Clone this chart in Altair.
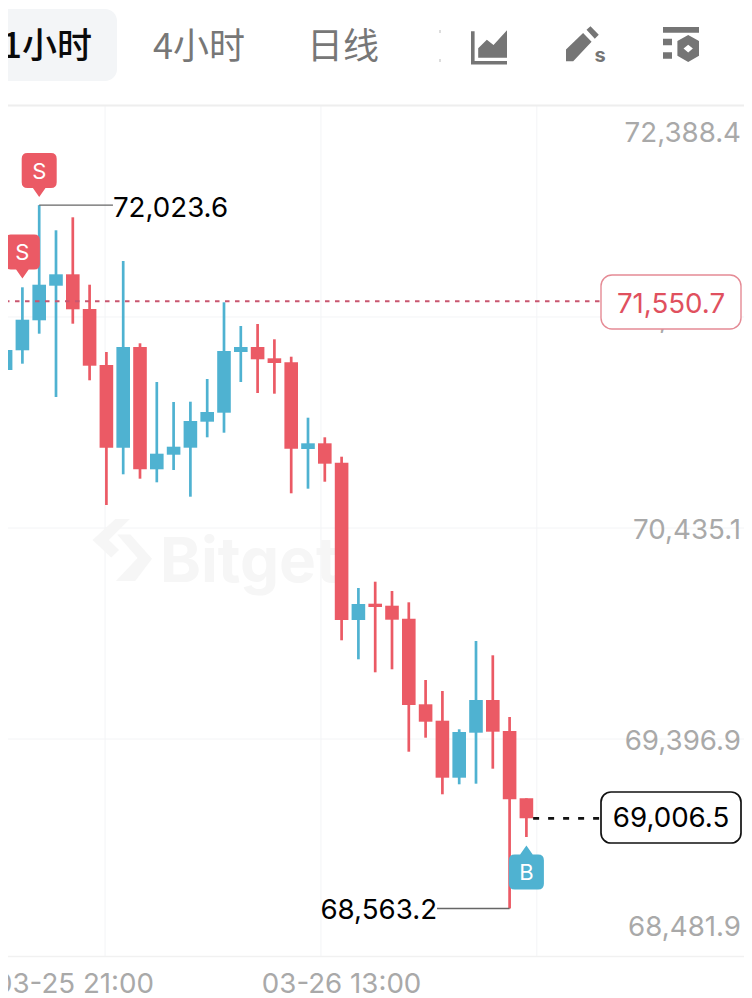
import altair as alt
import pandas as pd

# Candles (oldest to newest)
opens = [71212.5,71309.4,71457.0,71627.2,71683.3,71512.6,71237.1,70830.2,71325.6,70723.9,70795.7,70830.2,70958.1,71002.4,71301.0,71325.6,71270.0,71250.3,70823.8,70851.8,70756.4,69982.5,70062.7,70052.8,69988.9,69567.7,69487.0,69206.6,69428.0,69588.9,69436.3,69105.2]
highs = [71393.0,71619.3,72023.6,71899.8,71963.7,71632.1,71301.0,71748.7,71343.8,71153.4,71055.0,71056.5,71168.2,71545.5,71428.9,71438.8,71363.5,71277.9,70977.8,70881.3,70785.9,70139.9,70170.9,70125.1,70069.5,69687.3,69633.1,69444.7,69879.1,69808.8,69505.2,69105.2]
lows = [71027.0,71243.5,71391.1,71079.6,71440.3,71161.8,70548.3,70699.3,70677.7,70659.9,70720.5,70589.1,70881.3,70904.0,71153.4,71099.3,71095.9,70605.8,70628.5,70662.9,69882.6,69789.1,69725.1,69739.9,69334.5,69403.4,69124.9,69174.1,69177.1,69250.9,68563.2,68914.8]
closes = [71310.9,71459.9,71632.1,71683.3,71511.1,71233.6,70830.2,71325.6,70723.9,70800.7,70835.1,70961.5,71005.8,71305.9,71325.6,71265.1,71246.9,70825.3,70851.8,70751.5,69982.5,70061.2,70046.4,69983.9,69564.3,69482.1,69206.6,69431.4,69588.9,69432.9,69100.3,69006.5]

y_prices = [72388.4, 71473.3, 70435.1, 69396.9, 68481.9]
y_labels = ["72,388.4", "71,473.3", "70,435.1", "69,396.9", "68,481.9"]
grid_prices = [71473.3, 70435.1, 69396.9]
grid_idx = [5.92, 18.77, 31.62]
time_idx = [4.1, 20.0]
time_labels = ["03-25 21:00", "03-26 13:00"]
last_price = 71550.7
cur_price = 69006.5
high_price = 72023.6
low_price = 68563.2

RED = "#EB5A65"
BLUE = "#4FB2D1"
GREY = "#A9A9A9"
FONT = "Inter"
TS = 27.7

X_SCALE = alt.Scale(domain=[-0.3333, 44.4286], zero=False, nice=False)
Y_SCALE = alt.Scale(domain=[68122.7, 73032.86], zero=False, nice=False)
def X(f, **k): return alt.X(f, type="quantitative", scale=X_SCALE, axis=None, **k)
def Y(f, **k): return alt.Y(f, type="quantitative", scale=Y_SCALE, axis=None, **k)

df = pd.DataFrame({"i": range(len(opens)), "o": opens, "h": highs, "l": lows, "c": closes})
df["left"] = df.i - 0.405
df["right"] = df.i + 0.405
df["top"] = df[["o", "c"]].max(axis=1)
df["bot"] = df[["o", "c"]].min(axis=1)
df["dir"] = ["up" if c >= o else "down" for o, c in zip(opens, closes)]
COL = alt.Color("dir:N", scale=alt.Scale(domain=["up", "down"], range=[BLUE, RED]), legend=None)

one = alt.Data(values=[{"k": 1}])

def chrome_text(t, x, y, size, color, font=FONT, weight=400, align="center"):
    return alt.Chart(one).mark_text(text=t, font=font, fontSize=size, color=color, fontWeight=weight,
                                    align=align, baseline="middle").encode(x=alt.value(x), y=alt.value(y))

def icon(path, x, y, size, color="#757575"):
    return alt.Chart(one).mark_point(shape=path, size=size, filled=True, fill=color, opacity=1,
                                     strokeWidth=0).encode(x=alt.value(x), y=alt.value(y))

def hline(y, color, w):
    return alt.Chart(one).mark_rule(color=color, strokeWidth=w).encode(x=alt.value(0), x2=alt.value(752), y=alt.value(y))

# grids
h_grid = alt.Chart(pd.DataFrame({"p": grid_prices})).mark_rule(color="#F3F4F6", strokeWidth=1).encode(
    y=Y("p"), x=alt.value(0), x2=alt.value(752))
v_grid = alt.Chart(pd.DataFrame({"i": grid_idx})).mark_rule(color="#F3F4F6", strokeWidth=1).encode(
    x=X("i"), y=alt.value(106), y2=alt.value(957))

# watermark
logo_path = ("M-0.22,-1.03 L0.26,-1.03 L-0.44,-0.33 L-0.1,0 L-0.36,0.25 L-0.98,-0.33 Z "
             "M-0.2,1.03 L0.44,1.03 L1.0,0.29 L0.28,-0.52 L-0.16,-0.52 L0.52,0.27 Z")
logo = icon(logo_path, 122, 550, 3600, "#F6F6F6")
wm_text = alt.Chart(one).mark_text(text="Bitget", font=FONT, fontSize=62, fontWeight=700, color="#F6F6F6",
                                   align="left", baseline="alphabetic").encode(x=alt.value(160), y=alt.value(582))

# candles
wicks = alt.Chart(df).mark_rule(strokeWidth=2.7).encode(x=X("i"), y=Y("l"), y2="h", color=COL)
bodies = alt.Chart(df).mark_rect().encode(x=X("left"), x2="right", y=Y("top"), y2="bot", color=COL)

# price lines
last_line = alt.Chart(pd.DataFrame({"p": [last_price]})).mark_rule(color="#C9566F", strokeWidth=1.8, strokeDash=[4.5, 5.5]).encode(
    y=Y("p"), x=alt.value(5), x2=alt.value(601))
cur_line = alt.Chart(pd.DataFrame({"p": [cur_price], "a": [31.4]})).mark_rule(color="#111111", strokeWidth=2.6, strokeDash=[6, 9]).encode(
    y=Y("p"), x=X("a"), x2=alt.value(601))

# extreme annotations
ann = pd.DataFrame({"p": [high_price, low_price], "a": [2.0, 25.68], "b": [6.39, 30.0]})
ann_rules = alt.Chart(ann).mark_rule(color="#666666", strokeWidth=1.4).encode(y=Y("p"), x=X("a"), x2="b")
hi_txt = alt.Chart(pd.DataFrame({"p": [high_price], "i": [6.39], "t": ["72,023.6"]})).mark_text(
    font=FONT, fontSize=TS, color="#000000", align="left", baseline="middle", dx=0, dy=4).encode(x=X("i"), y=Y("p"), text="t")
lo_txt = alt.Chart(pd.DataFrame({"p": [low_price], "i": [25.68], "t": ["68,563.2"]})).mark_text(
    font=FONT, fontSize=TS, color="#000000", align="right", baseline="middle", dx=0, dy=2.5).encode(x=X("i"), y=Y("p"), text="t")

# markers
S_PATH = ("M-0.67,-1 H0.67 Q1,-1 1,-0.67 V0.67 Q1,1 0.67,1 H0.36 L0,1.52 L-0.36,1 H-0.67 "
          "Q-1,1 -1,0.67 V-0.67 Q-1,-1 -0.67,-1 Z")
B_PATH = ("M-0.67,1 H0.67 Q1,1 1,0.67 V-0.67 Q1,-1 0.67,-1 H0.36 L0,-1.52 L-0.36,-1 H-0.67 "
          "Q-1,-1 -1,-0.67 V0.67 Q-1,1 -0.67,1 Z")
s_df = pd.DataFrame({"i": [2, 1], "p": [72194.0, 71793.0], "t": ["S", "S"]})
b_df = pd.DataFrame({"i": [31], "p": [68742.6], "t": ["B"]})
s_mark = alt.Chart(s_df).mark_point(shape=S_PATH, size=1225, filled=True, fill=RED, opacity=1, strokeWidth=0).encode(x=X("i"), y=Y("p"))
b_mark = alt.Chart(b_df).mark_point(shape=B_PATH, size=1225, filled=True, fill=BLUE, opacity=1, strokeWidth=0).encode(x=X("i"), y=Y("p"))
mark_txt = alt.Chart(pd.concat([s_df, b_df])).mark_text(font=FONT, fontSize=22, color="#FFFFFF", baseline="middle", dy=1).encode(
    x=X("i"), y=Y("p"), text="t")

# right labels
y_txt = alt.Chart(pd.DataFrame({"p": y_prices, "t": y_labels})).mark_text(
    font=FONT, fontSize=TS, color=GREY, align="right", baseline="middle", dy=3).encode(x=alt.value(741), y=Y("p"), text="t")
t_txt = alt.Chart(pd.DataFrame({"i": time_idx, "t": time_labels})).mark_text(
    font=FONT, fontSize=TS, color=GREY, align="center", baseline="middle").encode(x=X("i"), y=alt.value(985), text="t")

last_box = alt.Chart(one).mark_rect(fill="#FFFFFF", stroke="#E58B95", strokeWidth=1.4, cornerRadius=11).encode(
    x=alt.value(601), x2=alt.value(741), y=alt.value(275), y2=alt.value(329))
cur_box = alt.Chart(one).mark_rect(fill="#FFFFFF", stroke="#111111", strokeWidth=1.7, cornerRadius=10).encode(
    x=alt.value(601), x2=alt.value(741), y=alt.value(792), y2=alt.value(843))
last_txt = alt.Chart(pd.DataFrame({"p": [last_price], "t": ["71,550.7"]})).mark_text(
    font=FONT, fontSize=TS, align="center", baseline="middle", dy=4, color="#E0505E").encode(
    x=alt.value(671), y=Y("p"), text="t")
cur_txt = alt.Chart(pd.DataFrame({"p": [cur_price], "t": ["69,006.5"]})).mark_text(
    font=FONT, fontSize=TS, align="center", baseline="middle", dy=1, color="#000000").encode(
    x=alt.value(671), y=Y("p"), text="t")

# header
tab_bg = alt.Chart(one).mark_rect(fill="#F3F5F7", cornerRadius=12).encode(
    x=alt.value(-30), x2=alt.value(117), y=alt.value(9), y2=alt.value(81))
CJK = "Noto Sans CJK SC"
tabs = [
    tab_bg,
    chrome_text("1小时", 47, 47, 35, "#0A0A0A", CJK, 500),
    chrome_text("4小时", 199, 48, 36, "#777777", CJK),
    chrome_text("日线", 343, 48, 36, "#777777", CJK),
]
area_icon = ("M-1,-0.85 H-0.8 V0.8 H1 V1 H-1 Z "
             "M-0.6,0.62 V0.1 L-0.12,-0.38 L0.25,-0.08 L1,-0.9 V0.62 Z")
pen_icon = ("M-1,0.85 V0.2 L-0.05,-0.72 L0.42,-0.24 L-0.6,0.85 Z "
            "M0.14,-0.9 L0.36,-1.1 L0.82,-0.62 L0.6,-0.4 Z")
gear_icon = ("M-1,-1 H1 V-0.68 H-1 Z M-1,-0.35 H-0.5 V0.02 H-1 Z M-1,0.4 H-0.5 V0.77 H-1 Z "
             "M0.4,-0.55 L1,-0.22 V0.6 L0.4,0.95 L-0.2,0.6 V-0.22 Z "
             "M0.4,-0.02 L0.14,0.2 L0.4,0.42 L0.66,0.2 Z")
icons = [
    icon(area_icon, 489, 46.5, 1296),
    icon(pen_icon, 584, 46, 1296),
    chrome_text("s", 600, 56, 20, "#757575", FONT, 700),
    icon(gear_icon, 681, 45, 1296),
    hline(105.5, "#EEEEEE", 2),
    hline(956.5, "#F1F1F1", 1.5),
]
speck = alt.Chart(pd.DataFrame({"y": [30, 59], "y2": [33, 62]})).mark_rule(color="#BBBBBB", strokeWidth=1).encode(
    x=alt.value(440), y=alt.Y("y:Q", scale=None), y2="y2")

chart = alt.layer(
    h_grid, v_grid, logo, wm_text, wicks, bodies, last_line, cur_line, ann_rules, hi_txt, lo_txt,
    s_mark, b_mark, mark_txt, y_txt, t_txt, last_box, cur_box, last_txt, cur_txt, *tabs, *icons, speck,
).properties(
    width=752, height=998,
    autosize=alt.AutoSizeParams(type="none"),
    padding={"left": -8, "top": -8, "right": -8, "bottom": -2},
    background="#FFFFFF",
).configure_view(stroke=None, fill=None).resolve_scale(color="independent")

chart.save("out.html", embed_options={"renderer": "svg", "actions": False})
